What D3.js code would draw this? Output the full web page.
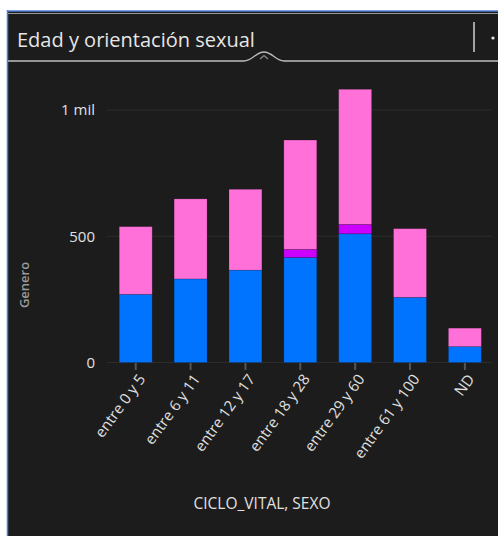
<!DOCTYPE html>
<html>
<head>
<meta charset="utf-8">
<script src="https://cdn.jsdelivr.net/npm/d3@7"></script>
<style>
  html, body { margin: 0; padding: 0; background: #ffffff; }
  svg { display: block; }
</style>
</head>
<body>
<svg id="chart" width="498" height="536"></svg>
<script>
// Age ranges (CICLO_VITAL) and counts per sex (SEXO)
const categories = ["entre 0 y 5", "entre 6 y 11", "entre 12 y 17", "entre 18 y 28", "entre 29 y 60", "entre 61 y 100", "ND"];
const seriesNames = ["Hombre", "Intersexual", "Mujer"];
const hombre      = [270, 331, 366, 416, 510, 258, 63];
const intersexual = [0, 0, 0, 32, 37, 0, 0];
const mujer       = [268, 317, 320, 433, 535, 272, 73];
const yTicks = [0, 500, 1000];
const yTickLabels = ["0", "500", "1 mil"];
const seriesColors = ["#0073ff", "#cc00ff", "#ff70d9"];

const svg = d3.select("#chart");
const W = 498, H = 536;
const font = "'Open Sans', sans-serif";

// Panel frame
svg.append("rect").attr("x", 0).attr("y", 0).attr("width", W).attr("height", H).attr("fill", "#ffffff");
svg.append("rect").attr("x", 8).attr("y", 11).attr("width", W - 8).attr("height", H - 11).attr("fill", "#1c1c1c");
svg.append("line").attr("x1", 7.5).attr("x2", 7.5).attr("y1", 10).attr("y2", H)
  .attr("stroke", "#4a7fd4").attr("stroke-width", 1.5);
svg.append("line").attr("x1", 7).attr("x2", W).attr("y1", 11).attr("y2", 11)
  .attr("stroke", "#4a7fd4").attr("stroke-width", 1.5);
svg.append("line").attr("x1", 8).attr("x2", W).attr("y1", 13.5).attr("y2", 13.5)
  .attr("stroke", "#9a9a9a").attr("stroke-width", 1.2);

// Header
svg.append("text").attr("x", 17).attr("y", 47)
  .attr("font-family", font).attr("font-size", 20)
  .attr("fill", "#e6e6e6").text("Edad y orientación sexual");
svg.append("line").attr("x1", 474).attr("x2", 474).attr("y1", 22).attr("y2", 52)
  .attr("stroke", "#cfcfcf").attr("stroke-width", 1.5);
svg.append("circle").attr("cx", 493).attr("cy", 38).attr("r", 1.6).attr("fill", "#e6e6e6");
// Divider with collapse notch
svg.append("path")
  .attr("d", "M8,61 L244,61 C252,61 256,52 264,52 C272,52 276,61 284,61 L498,61")
  .attr("fill", "none").attr("stroke", "#bdbdbd").attr("stroke-width", 1.3);
svg.append("path").attr("d", "M260,59 L264,55.5 L268,59")
  .attr("fill", "none").attr("stroke", "#8a8a8a").attr("stroke-width", 1.2);

// Scales
const x = d3.scaleBand().domain(categories).range([108.3, 492.3]).paddingInner(0.4).paddingOuter(0.2);
const y = d3.scaleLinear().domain([0, 1000]).range([362.5, 110]);

// Gridlines
svg.append("g").selectAll("line").data(yTicks).join("line")
  .attr("x1", 107).attr("x2", 492).attr("y1", d => y(d)).attr("y2", d => y(d))
  .attr("stroke", "#2c2c2c").attr("stroke-width", 1);

// Y axis labels
const yAxis = d3.axisLeft(y).tickValues(yTicks).tickSize(0).tickPadding(0)
  .tickFormat((d, i) => yTickLabels[i]);
const gy = svg.append("g").attr("transform", "translate(95,0)").call(yAxis);
gy.select(".domain").remove();
gy.selectAll("text").attr("font-family", font).attr("font-size", 15)
  .attr("fill", "#e0e0e0");

svg.append("text").attr("transform", "translate(29,285) rotate(-90)")
  .attr("text-anchor", "middle").attr("font-family", font)
  .attr("font-size", 13).attr("font-weight", 600).attr("fill", "#9a9a9a").text("Genero");

// Stacked bars
const rows = categories.map((c, i) => ({ cat: c, Hombre: hombre[i], Intersexual: intersexual[i], Mujer: mujer[i] }));
const stack = d3.stack().keys(seriesNames)(rows);
svg.append("g").selectAll("g").data(stack).join("g")
  .attr("fill", (d, i) => seriesColors[i])
  .selectAll("rect").data(d => d.filter(s => s[1] > s[0])).join("rect")
  .attr("x", d => x(d.data.cat))
  .attr("width", x.bandwidth())
  .attr("y", d => y(d[1]))
  .attr("height", d => y(d[0]) - y(d[1]))
  .attr("stroke", "rgba(0,0,0,0.18)").attr("stroke-width", 0.8);

// X axis
const xAxis = d3.axisBottom(x).tickSize(7).tickSizeOuter(0).tickPadding(2);
const gx = svg.append("g").attr("transform", "translate(0,363)").call(xAxis);
gx.select(".domain").remove();
gx.selectAll(".tick line").attr("stroke", "#555").attr("stroke-width", 2);
gx.selectAll(".tick text")
  .attr("font-family", font).attr("font-size", 15).attr("fill", "#e0e0e0")
  .attr("text-anchor", "end").attr("dy", "0.35em")
  .attr("transform", "translate(6,13) rotate(-54)")
  .attr("x", 0).attr("y", 0);

svg.append("text").attr("x", 262).attr("y", 509).attr("text-anchor", "middle")
  .attr("font-family", font).attr("font-size", 15.5)
  .attr("fill", "#e0e0e0").text("CICLO_VITAL, SEXO");
</script>
</body>
</html>
